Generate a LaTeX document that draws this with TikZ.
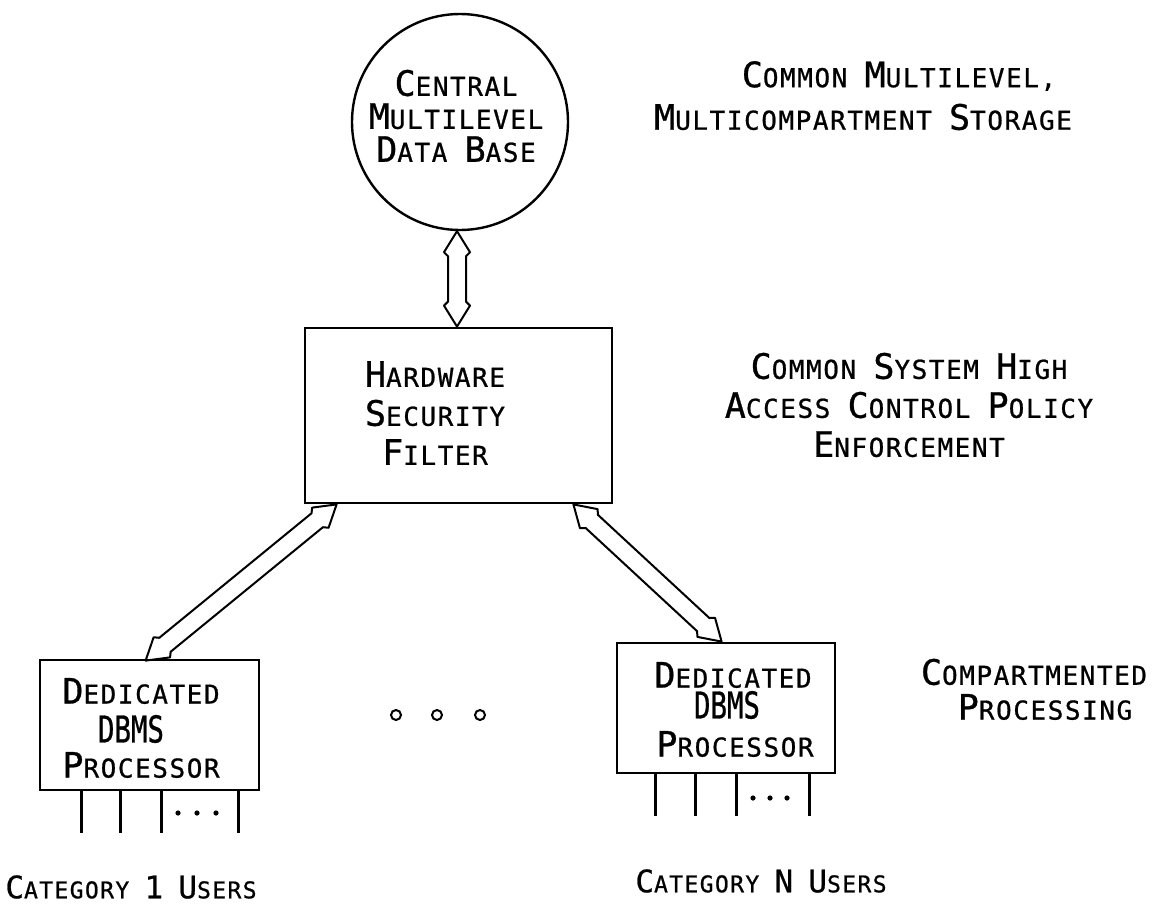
\documentclass[tikz,border=0pt]{standalone}
\usepackage{fontspec}
\usepackage{graphicx}
\usetikzlibrary{calc}
\newfontfamily\letterfont[LetterSpace=6,FakeBold=0.8]{DejaVu Sans Mono}
% larger initial capitals of the small-caps lettering
\newcommand\Ini[1]{{\fontsize{35}{38}\selectfont #1}}
% tall, narrow acronym
\newcommand\Acr[1]{\scalebox{0.74}[1]{\fontsize{37}{38}\selectfont\addfontfeature{LetterSpace=0}#1}}
% hollow double-headed arrow between two points
\newcommand\dblarrow[2]{%
  \draw[dblarr] (#1)
    -- ($(#1)!21pt!(#2)!13pt!90:(#2)$)
    -- ($(#1)!25pt!(#2)!9pt!90:(#2)$)
    -- ($(#2)!25pt!(#1)!9pt!-90:(#1)$)
    -- ($(#2)!21pt!(#1)!13pt!-90:(#1)$)
    -- (#2)
    -- ($(#2)!21pt!(#1)!13pt!90:(#1)$)
    -- ($(#2)!25pt!(#1)!9pt!90:(#1)$)
    -- ($(#1)!25pt!(#2)!9pt!-90:(#2)$)
    -- ($(#1)!21pt!(#2)!13pt!-90:(#2)$)
    -- cycle;}
\tikzset{
  lbl/.style={font=\letterfont\fontsize{26}{39}\selectfont, align=center, inner sep=0pt},
  foot/.style={font=\letterfont\fontsize{23}{30}\selectfont, inner sep=0pt},
  box/.style={draw, line width=2.8pt, inner sep=0pt},
  dblarr/.style={line width=2pt, line join=round},
  leg/.style={line width=2.8pt},
  ring/.style={line width=2pt}
}
\begin{document}
\begin{tikzpicture}[x=1pt,y=-1pt]
\useasboundingbox (0,0) rectangle (1161,918);

% central store
\node[box, circle, line width=2.4pt, minimum size=216pt] (db) at (460,122) {};
\node[lbl, font=\letterfont\fontsize{26}{33}\selectfont] (dbtext) at (456,116)
  {\Ini{C}ENTRAL\\\Ini{M}ULTILEVEL\\\Ini{D}ATA \Ini{B}ASE};

% filter
\node[box, minimum width=307pt, minimum height=175pt] (filter) at (458.5,415.5) {};
\node[lbl] (filtertext) at (435,413)
  {\Ini{H}ARDWARE\\\Ini{S}ECURITY\\\Ini{F}ILTER};

% compartment processors
\node[box, minimum width=219pt, minimum height=130pt] (p1) at (149.5,725) {};
\node[lbl] (p1a) at (141,691) {\Ini{D}EDICATED};
\node[lbl] (p1b) at (131,729) {\Acr{DBMS}};
\node[lbl] (p1c) at (141,765) {\Ini{P}ROCESSOR};
\node[box, minimum width=218pt, minimum height=130pt] (pn) at (726,708) {};
\node[lbl] (pna) at (733,675) {\Ini{D}EDICATED};
\node[lbl] (pnb) at (727,705) {\Acr{DBMS}};
\node[lbl] (pnc) at (735,744) {\Ini{P}ROCESSOR};

% user lines below each processor
\foreach \x in {43,82,123,200}
  \draw[leg] ([xshift=\x pt]p1.south west) -- ++(0,42);
\foreach \x in {40,80,121,194}
  \draw[leg] ([xshift=\x pt]pn.south west) -- ++(0,42);
\foreach \x in {178,197,216} \fill (\x,813) circle (2.6pt);
\foreach \x in {753,770,787} \fill (\x,798) circle (2.6pt);

% further processors
\foreach \x in {396,437,480} \draw[ring] (\x,715) circle (5pt);

% connections
\dblarrow{[xshift=-3pt]db.south}{[xshift=-3pt]db.south |- filter.north}
\dblarrow{[xshift=33pt]filter.south west}{[xshift=107pt,yshift=-2pt]p1.north west}
\dblarrow{[xshift=-40pt]filter.south east}{[xshift=106pt]pn.north west}

% level annotations
\node[lbl] (store1) at (899,76) {\Ini{C}OMMON \Ini{M}ULTILEVEL,};
\node[lbl] (store2) at (863,117) {\Ini{M}ULTICOMPARTMENT \Ini{S}TORAGE};
\node[lbl] (policy) at (909,405)
  {\Ini{C}OMMON \Ini{S}YSTEM \Ini{H}IGH\\\Ini{A}CCESS \Ini{C}ONTROL \Ini{P}OLICY\\\Ini{E}NFORCEMENT};
\node[lbl] (proc1) at (1034,672) {\Ini{C}OMPARTMENTED};
\node[lbl] (proc2) at (1045,707) {\Ini{P}ROCESSING};

% user groups
\node[foot] (users1) at (131,887) {{\fontsize{31}{30}\selectfont C}ATEGORY {\fontsize{31}{30}\selectfont 1} {\fontsize{31}{30}\selectfont U}SERS};
\node[foot] (usersn) at (761,881) {{\fontsize{31}{30}\selectfont C}ATEGORY {\fontsize{31}{30}\selectfont N} {\fontsize{31}{30}\selectfont U}SERS};
\end{tikzpicture}
\end{document}
